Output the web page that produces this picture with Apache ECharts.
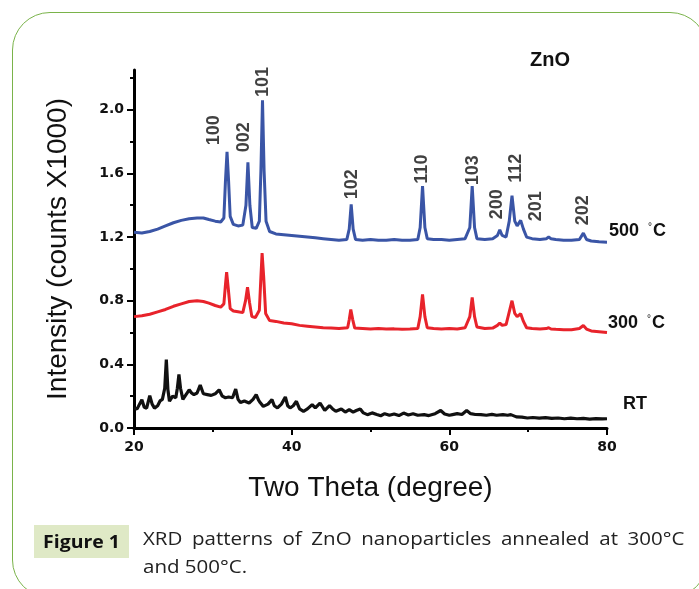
<!DOCTYPE html>
<html>
<head>
<meta charset="utf-8">
<script src="https://cdn.jsdelivr.net/npm/echarts@6.0.0/dist/echarts.min.js"></script>
<style>
  html, body { margin: 0; padding: 0; background: #fff; }
  #wrap { position: relative; width: 699px; height: 589px; overflow: hidden; }
  #frame { position: absolute; left: 12px; top: 12px; width: 694px; height: 584px;
           border: 1.5px solid #7ab34a; border-radius: 38px; }
  #chart { position: absolute; left: 0; top: 0; width: 699px; height: 589px; }
  #figTag { position: absolute; left: 34px; top: 525px; width: 95px; height: 33px;
            background: #dfe9c6; color: #111; }
  #figTag span { display: block; font: bold 18px "Open Sans", sans-serif; line-height: 33px;
                 text-align: center; transform: scaleX(1.08); }
  #caption { position: absolute; left: 143px; top: 524px; width: 475px;
             font: 18px "Open Sans", sans-serif; color: #222; line-height: 28px;
             transform: scaleX(1.14); transform-origin: 0 0; }
  #caption .l1 { text-align: justify; text-align-last: justify; }
</style>
</head>
<body>
<div id="wrap">
  <div id="frame"></div>
  <div id="chart"></div>
  <div id="figTag"><span>Figure 1</span></div>
  <div id="caption"><div class="l1">XRD patterns of ZnO nanoparticles annealed at 300°C</div><div>and 500°C.</div></div>
</div>
<script>
// XRD patterns, intensity in counts x1000 (offset stacked as in the figure)
var xrd500 = [
  [20,1.23],[21,1.225],[22,1.235],[23,1.25],[24,1.27],[25,1.29],[26,1.305],[27,1.315],[28,1.32],
  [28.8,1.32],[29.5,1.31],[30.3,1.30],[31.0,1.295],[31.4,1.32],[31.6,1.55],[31.8,1.735],[32.0,1.55],
  [32.2,1.33],[32.6,1.28],[33.2,1.27],[33.8,1.275],[34.2,1.40],[34.45,1.67],[34.7,1.40],[35.0,1.26],
  [35.5,1.255],[35.9,1.30],[36.1,1.62],[36.3,2.06],[36.5,1.62],[36.75,1.30],[37.2,1.235],[38,1.22],
  [39,1.215],[40,1.21],[41,1.205],[42,1.20],[43,1.195],[44,1.19],[45,1.185],[46,1.18],[47,1.185],
  [47.3,1.25],[47.55,1.405],[47.8,1.25],[48.1,1.185],[49,1.18],[50,1.185],[51,1.18],[52,1.18],
  [53,1.185],[54,1.18],[55,1.18],[56,1.185],[56.3,1.26],[56.6,1.52],[56.9,1.26],[57.2,1.19],
  [58,1.185],[59,1.185],[60,1.18],[61,1.185],[62,1.19],[62.6,1.26],[62.9,1.52],[63.2,1.26],
  [63.5,1.19],[64.5,1.185],[65.5,1.19],[66.1,1.21],[66.4,1.245],[66.7,1.21],[67.2,1.20],[67.6,1.30],
  [67.95,1.46],[68.3,1.30],[68.6,1.27],[69.05,1.305],[69.4,1.25],[69.8,1.20],[70.5,1.19],[71.5,1.185],
  [72.3,1.19],[72.6,1.20],[72.9,1.19],[73.5,1.185],[74.5,1.18],[75.5,1.18],[76.5,1.185],[77.0,1.225],
  [77.4,1.185],[78,1.175],[79,1.17],[80,1.168]
];
var xrd300 = [
  [20,0.70],[21,0.705],[22,0.715],[23,0.73],[24,0.745],[25,0.765],[26,0.78],[27,0.795],[28,0.80],
  [28.8,0.795],[29.5,0.785],[30.3,0.77],[31.0,0.76],[31.4,0.78],[31.6,0.90],[31.75,0.98],[31.95,0.88],
  [32.2,0.75],[32.6,0.735],[33.2,0.73],[33.8,0.725],[34.15,0.80],[34.4,0.885],[34.65,0.79],[34.95,0.70],
  [35.4,0.695],[35.9,0.74],[36.1,0.95],[36.25,1.10],[36.45,0.95],[36.7,0.72],[37.2,0.675],[38,0.67],
  [39,0.66],[40,0.655],[41,0.645],[42,0.64],[43,0.635],[44,0.63],[45,0.628],[46,0.625],[47.1,0.63],
  [47.3,0.68],[47.5,0.745],[47.75,0.68],[48.0,0.628],[49,0.625],[50,0.622],[51,0.625],[52,0.622],
  [53,0.623],[54,0.62],[55,0.622],[56,0.625],[56.3,0.70],[56.6,0.84],[56.9,0.70],[57.2,0.63],
  [58,0.625],[59,0.622],[60,0.625],[61,0.622],[62,0.63],[62.6,0.70],[62.9,0.82],[63.2,0.70],
  [63.5,0.635],[64.5,0.625],[65.5,0.628],[66.1,0.645],[66.4,0.66],[66.7,0.645],[67.2,0.65],[67.6,0.73],
  [67.95,0.80],[68.3,0.72],[68.6,0.70],[69.05,0.718],[69.4,0.67],[69.8,0.63],[70.5,0.625],[71.5,0.622],
  [72.3,0.625],[72.6,0.63],[72.9,0.622],[73.5,0.62],[74.5,0.618],[75.5,0.618],[76.5,0.625],[77.0,0.644],
  [77.4,0.622],[78,0.61],[79,0.605],[80,0.60]
];
var xrdRT = [
  [20,0.126],[20.4,0.12],[20.7,0.15],[21.0,0.178],[21.3,0.13],[21.6,0.125],[22.0,0.203],[22.3,0.15],
  [22.6,0.125],[23.0,0.14],[23.3,0.17],[23.6,0.18],[23.9,0.25],[24.1,0.43],[24.3,0.24],[24.5,0.168],
  [24.9,0.20],[25.3,0.19],[25.5,0.25],[25.7,0.336],[25.9,0.25],[26.2,0.18],[26.6,0.21],[27.0,0.24],
  [27.3,0.22],[27.6,0.21],[28.0,0.22],[28.4,0.27],[28.8,0.215],[29.3,0.21],[29.8,0.205],[30.3,0.215],
  [30.8,0.24],[31.2,0.20],[31.6,0.19],[32.0,0.195],[32.5,0.19],[32.9,0.245],[33.2,0.18],[33.5,0.16],
  [34.0,0.17],[34.6,0.157],[35.1,0.18],[35.5,0.21],[35.8,0.175],[36.0,0.16],[36.4,0.136],[37.0,0.15],
  [37.5,0.178],[37.8,0.14],[38.2,0.126],[38.7,0.15],[39.2,0.195],[39.5,0.14],[39.8,0.126],[40.2,0.14],
  [40.6,0.168],[41.0,0.12],[41.5,0.105],[42.0,0.12],[42.6,0.147],[43.0,0.126],[43.6,0.157],[44.2,0.11],
  [44.8,0.14],[45.2,0.12],[45.6,0.105],[46.3,0.12],[46.8,0.10],[47.3,0.115],[47.8,0.10],[48.2,0.11],
  [48.7,0.12],[49.1,0.095],[49.6,0.084],[50.2,0.095],[50.8,0.085],[51.3,0.077],[51.8,0.09],[52.4,0.08],
  [53.0,0.088],[53.6,0.078],[54.2,0.094],[54.8,0.082],[55.4,0.09],[56.0,0.08],[56.8,0.084],[57.4,0.078],
  [58.2,0.09],[58.9,0.11],[59.4,0.088],[60.0,0.08],[60.4,0.084],[61.0,0.09],[61.6,0.085],[62.2,0.11],
  [62.7,0.09],[63.3,0.085],[64.0,0.084],[64.7,0.08],[65.4,0.086],[66.0,0.08],[66.8,0.084],[67.4,0.08],
  [67.8,0.084],[68.5,0.07],[69.2,0.068],[69.9,0.063],[70.6,0.066],[71.4,0.062],[72.2,0.065],[73.0,0.06],
  [73.8,0.063],[74.6,0.058],[75.4,0.062],[76.2,0.058],[77.0,0.06],[77.8,0.056],[78.6,0.059],[79.4,0.057],
  [80,0.058]
];
// hkl labels: [text, 2theta, intensity where the label sits]
var peakLabels = [
  ['100',30.1,1.872],['002',33.9,1.828],['101',36.4,2.174],['102',47.6,1.532],['110',56.5,1.627],
  ['103',63.0,1.62],['200',66.1,1.406],['112',68.4,1.633],['201',70.95,1.394],['202',76.9,1.369]
];
var yMajor = [0, 0.4, 0.8, 1.2, 1.6, 2.0];
var yMinor = [0.2, 0.6, 1.0, 1.4, 1.8, 2.2];

var chart = echarts.init(document.getElementById('chart'));
var tickFont = { color: '#111', fontSize: 14, fontWeight: 'bold', fontFamily: 'DejaVu Sans' };
var option = {
  animation: false,
  backgroundColor: 'transparent',
  grid: { left: 134, right: 92, top: 70, bottom: 161 },
  xAxis: {
    type: 'value', min: 20, max: 80, interval: 20,
    name: 'Two Theta (degree)', nameLocation: 'middle', nameGap: 46,
    nameTextStyle: { fontSize: 28, color: '#111', fontFamily: 'Liberation Sans' },
    axisLine: { lineStyle: { color: '#000', width: 3 } },
    axisTick: { length: 7, lineStyle: { color: '#000', width: 2 } },
    minorTick: { show: true, splitNumber: 2, length: 4, lineStyle: { color: '#000', width: 2 } },
    axisLabel: Object.assign({ margin: 12 }, tickFont),
    splitLine: { show: false }
  },
  yAxis: [{
    type: 'value', min: 0, max: 2.25,
    name: 'Intensity (counts X1000)', nameLocation: 'middle', nameGap: 62,
    nameTextStyle: { fontSize: 28, color: '#111', fontFamily: 'Liberation Sans' },
    axisLine: { lineStyle: { color: '#000', width: 3 } },
    axisTick: { customValues: yMajor, length: 7, lineStyle: { color: '#000', width: 2 } },
    axisLabel: Object.assign({ margin: 10, customValues: yMajor,
      formatter: function (v) { return v.toFixed(1); } }, tickFont),
    splitLine: { show: false }
  }, {
    type: 'value', min: 0, max: 2.25, position: 'left',
    axisLine: { show: false },
    axisTick: { customValues: yMinor, length: 4, lineStyle: { color: '#000', width: 2 } },
    axisLabel: { show: false },
    splitLine: { show: false }
  }],
  series: [
    { name: '500', type: 'line', data: xrd500, showSymbol: false, symbol: 'none',
      lineStyle: { color: '#3a55a6', width: 3 } },
    { name: '300', type: 'line', data: xrd300, showSymbol: false, symbol: 'none',
      lineStyle: { color: '#e8232b', width: 3 } },
    { name: 'RT', type: 'line', data: xrdRT, showSymbol: false, symbol: 'none',
      lineStyle: { color: '#111', width: 3.2 } },
    { name: 'hkl', type: 'scatter', symbolSize: 0, silent: true,
      data: peakLabels.map(function (p) { return { name: p[0], value: [p[1], p[2]] }; }),
      label: { show: true, position: 'inside', rotate: 90, formatter: '{b}',
        color: '#111', fontSize: 18, fontWeight: 'bold', fontFamily: 'Liberation Sans' } }
  ],
  graphic: [
    { type: 'text', left: 530, top: 50,
      style: { text: 'ZnO', fontSize: 20, fontWeight: 'bold', fill: '#111', fontFamily: 'Liberation Sans' } },
    { type: 'text', left: 609, top: 222,
      style: { text: '500 {d|°}C', fontSize: 18, fontWeight: 'bold', fill: '#111', fontFamily: 'Liberation Sans',
        rich: { d: { fontSize: 10, fontWeight: 'normal', padding: [0, 1, 9, 4] } } } },
    { type: 'text', left: 608, top: 314,
      style: { text: '300 {d|°}C', fontSize: 18, fontWeight: 'bold', fill: '#111', fontFamily: 'Liberation Sans',
        rich: { d: { fontSize: 10, fontWeight: 'normal', padding: [0, 1, 9, 4] } } } },
    { type: 'text', left: 623, top: 395,
      style: { text: 'RT', fontSize: 18, fontWeight: 'bold', fill: '#111', fontFamily: 'Liberation Sans' } }
  ]
};
chart.setOption(option);
</script>
</body>
</html>
